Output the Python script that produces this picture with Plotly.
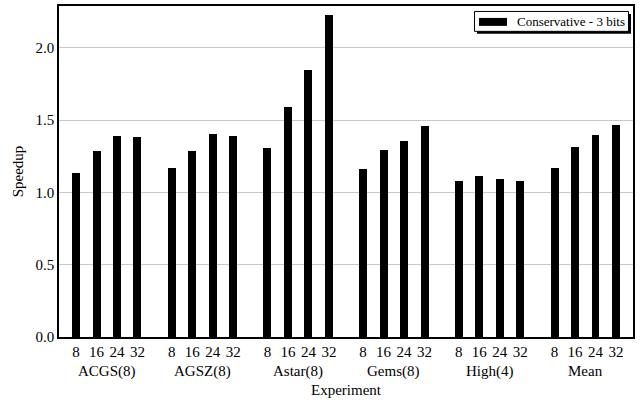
import plotly.graph_objects as go

groups = ["ACGS(8)", "AGSZ(8)", "Astar(8)", "Gems(8)", "High(4)", "Mean"]
sizes = ["8", "16", "24", "32"]
speedup = {
    "ACGS(8)": [1.133, 1.285, 1.392, 1.385],
    "AGSZ(8)": [1.168, 1.285, 1.402, 1.390],
    "Astar(8)": [1.308, 1.592, 1.844, 2.225],
    "Gems(8)": [1.163, 1.292, 1.358, 1.457],
    "High(4)": [1.078, 1.117, 1.092, 1.080],
    "Mean": [1.168, 1.312, 1.399, 1.466],
}
series_name = "Conservative - 3 bits"

GROUP_STEP = 4.67
FONT = "Liberation Serif"

W, H = 640, 403
ML, MR, MT, MB = 59, 7, 4, 66
PW, PH = W - ML - MR, H - MT - MB


def px(x):
    return (x - ML) / PW


def py(y):
    return (H - MB - y) / PH


xs, ys, labels = [], [], []
for gi, g in enumerate(groups):
    for si, s in enumerate(sizes):
        xs.append(gi * GROUP_STEP + si)
        ys.append(speedup[g][si])
        labels.append(s)

fig = go.Figure()
fig.add_trace(go.Bar(x=xs, y=ys, width=0.39, name=series_name,
                     marker=dict(color="black", line=dict(width=0)),
                     showlegend=False))

x_lo = -0.83
x_hi = (len(groups) - 1) * GROUP_STEP + 3 + 0.83

for gi, g in enumerate(groups):
    fig.add_annotation(x=gi * GROUP_STEP + 1.5, y=0, xref="x", yref="paper",
                       text=g, showarrow=False, yanchor="top", yshift=-24,
                       font=dict(family=FONT, size=15, color="black"))

# custom legend: shadow, box, symbol, text
fig.add_shape(type="rect", xref="paper", yref="paper", layer="above",
              x0=px(477), x1=px(631), y0=py(32), y1=py(12),
              line=dict(width=0), fillcolor="black")
fig.add_shape(type="rect", xref="paper", yref="paper", layer="above",
              x0=px(474.5), x1=px(628.5), y0=py(29.5), y1=py(9.5),
              line=dict(width=1, color="black"), fillcolor="white")
fig.add_shape(type="rect", xref="paper", yref="paper", layer="above",
              x0=px(479), x1=px(507), y0=py(24), y1=py(16),
              line=dict(width=0), fillcolor="black")
fig.add_annotation(x=px(515), y=py(20), xref="paper", yref="paper",
                   text=series_name, showarrow=False, xanchor="left",
                   yanchor="middle",
                   font=dict(family=FONT, size=13, color="black"))

fig.update_layout(
    width=W, height=H,
    margin=dict(l=ML, r=MR, t=MT, b=MB),
    paper_bgcolor="white", plot_bgcolor="white",
    font=dict(family=FONT, size=15, color="black"),
    bargap=0,
    showlegend=False,
    xaxis=dict(range=[x_lo, x_hi], tickmode="array", tickvals=xs, ticktext=labels,
               showgrid=False, zeroline=False, showline=True, linecolor="black",
               linewidth=1.5, mirror=True, ticks="",
               title=dict(text="Experiment", standoff=26,
                          font=dict(family=FONT, size=15))),
    yaxis=dict(range=[0, 2.29], tickmode="array",
               tickvals=[0, 0.5, 1.0, 1.5, 2.0],
               ticktext=["0.0", "0.5", "1.0", "1.5", "2.0"],
               showgrid=True, gridcolor="#c8c8c8", gridwidth=1,
               zeroline=False, showline=True, linecolor="black", linewidth=1.5,
               mirror=True, ticks="",
               title=dict(text="Speedup", standoff=8,
                          font=dict(family=FONT, size=15))),
)

fig.write_html("out.html", config={"displayModeBar": False},
               post_script="document.body.style.margin='0';")
